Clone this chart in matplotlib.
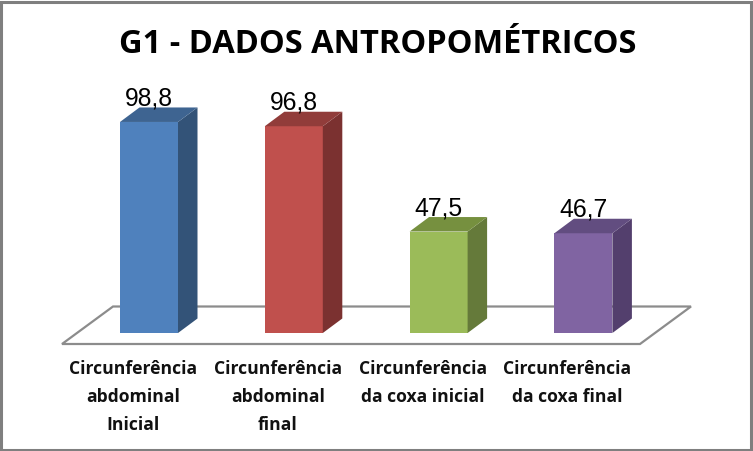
import matplotlib
matplotlib.use('Agg')
import matplotlib.pyplot as plt
from matplotlib.patches import Polygon, Rectangle

# Dados do grafico
categorias = ['Circunferência\nabdominal\nInicial', 'Circunferência\nabdominal\nfinal',
              'Circunferência\nda coxa inicial', 'Circunferência\nda coxa final']
valores = [98.8, 96.8, 47.5, 46.7]
rotulos = ['98,8', '96,8', '47,5', '46,7']
cor_frente = ['#4F81BD', '#C0504D', '#9BBB59', '#8064A2']
cor_lado = ['#335378', '#7B3130', '#657A3A', '#533F6D']
cor_topo = ['#3E6491', '#913C3A', '#76903F', '#624D80']

W, H = 753, 451
fig = plt.figure(figsize=(W / 100, H / 100), dpi=100, facecolor='white')

# eixo = plano frontal das barras
px_x = 144.8
px_y = 2.136
left, base = 76.6, 333
ax = fig.add_axes([left / W, (H - base) / H, 4 * px_x / W, 110 * px_y / H])
ax.set_xlim(-0.5, 3.5)
ax.set_ylim(0, 110)
ax.axis('off')

largura = 58 / px_x
dx = 19.5 / px_x
dy = 14.5 / px_y

# chao
x0, x1 = -0.5 - 14.6 / px_x, 3.5 - 15.8 / px_x
y0 = -11 / px_y
fx, fy = 51 / px_x, 37.5 / px_y
ax.add_patch(Polygon([(x0, y0), (x1, y0), (x1 + fx, y0 + fy), (x0 + fx, y0 + fy)], closed=True,
                     facecolor='white', edgecolor='#8C8C8C', lw=1.6, clip_on=False, zorder=1))

for i, v in enumerate(valores):
    a, b = i - largura / 2, i + largura / 2
    ax.bar(i, v, width=largura, color=cor_frente[i], linewidth=0, zorder=3, clip_on=False)
    ax.add_patch(Polygon([(b, 0), (b + dx, dy), (b + dx, v + dy), (b, v)], closed=True,
                         facecolor=cor_lado[i], edgecolor='none', zorder=3, clip_on=False))
    ax.add_patch(Polygon([(a, v), (b, v), (b + dx, v + dy), (a + dx, v + dy)], closed=True,
                         facecolor=cor_topo[i], edgecolor='none', zorder=3, clip_on=False))
    ax.text(i, v + 5.4, rotulos[i], ha='center', va='bottom', fontsize=17.8,
            family='Liberation Sans', color='black', zorder=5, clip_on=False)
    ax.text(i - 16 / px_x, -27.5 / px_y, categorias[i], ha='center', va='top', fontsize=12.6, fontweight='bold',
            family='Open Sans', linespacing=1.69, color='#111111', clip_on=False)

fig.text(377.5 / W, 1 - 53 / H, 'G1 - DADOS ANTROPOMÉTRICOS', ha='center', va='baseline', fontsize=23.5,
         fontweight='bold', family='Open Sans', color='black')

# moldura
fig.add_artist(Rectangle((0.001, 0.002), 0.996, 0.994, transform=fig.transFigure, fill=False,
                         edgecolor='#7F7F7F', lw=2.2))
fig.savefig('out.png', dpi=100)
